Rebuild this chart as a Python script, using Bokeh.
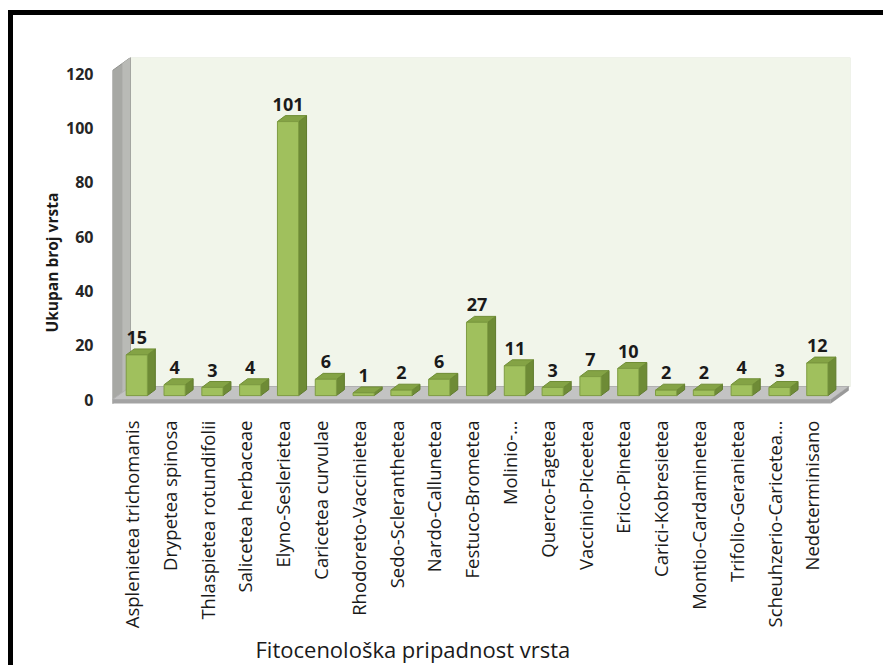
from bokeh.core.properties import value
from bokeh.embed import file_html
from bokeh.models import FixedTicker, InlineStyleSheet, Range1d, Title
from bokeh.plotting import figure
from bokeh.resources import INLINE
import math

# ---- data -------------------------------------------------------------
categories = [
    "Asplenietea trichomanis",
    "Drypetea spinosa",
    "Thlaspietea rotundifolii",
    "Salicetea herbaceae",
    "Elyno-Seslerietea",
    "Caricetea curvulae",
    "Rhodoreto-Vaccinietea",
    "Sedo-Scleranthetea",
    "Nardo-Callunetea",
    "Festuco-Brometea",
    "Molinio-…",
    "Querco-Fagetea",
    "Vaccinio-Piceetea",
    "Erico-Pinetea",
    "Carici-Kobresietea",
    "Montio-Cardaminetea",
    "Trifolio-Geranietea",
    "Scheuhzerio-Caricetea…",
    "Nedeterminisano",
]
counts = [15, 4, 3, 4, 101, 6, 1, 2, 6, 27, 11, 3, 7, 10, 2, 2, 4, 3, 12]
y_ticks = [0, 20, 40, 60, 80, 100, 120]

y_title = "Ukupan broj vrsta"
x_title = "Fitocenološka pripadnost vrsta"

# ---- geometry of the pseudo-3D box (data units) -----------------------
X_LEFT, X_RIGHT = -0.5, 19.02
Y_BOTTOM, Y_TOP = -1.84, 126.06
N = len(categories)
FLOOR_END = N - 0.5
DX, DY = 0.476, 4.79          # full depth of floor / side wall
SLAB = 1.5                    # floor thickness
BAR_HALF = 0.28               # half width of a bar's front face
BDX, BDY = 0.21, 2.2          # depth of each bar
SHIFT = 0.3                   # bars stand at this fraction of the depth

FONT = "Open Sans"

p = figure(
    width=883, height=665,
    x_range=Range1d(X_LEFT, X_RIGHT), y_range=Range1d(Y_BOTTOM, Y_TOP),
    output_backend="svg", toolbar_location=None,
    min_border_left=112, min_border_right=33,
    min_border_top=57, min_border_bottom=261,
    background_fill_color="white", border_fill_color="white",
)
p.outline_line_color = None
p.grid.visible = False

# black frame lines (left and top edges) drawn over the canvas
p.stylesheets = [InlineStyleSheet(css="""
:host { position: relative; }
:host::before {
  content: ""; position: absolute; z-index: 20; pointer-events: none;
  left: 8px; top: 10px; width: 5px; height: 655px; background: #000;
}
:host::after {
  content: ""; position: absolute; z-index: 20; pointer-events: none;
  left: 8px; top: 10px; width: 875px; height: 5px; background: #000;
}
""")]

# back wall, side wall and floor
p.patch([X_LEFT + DX, X_RIGHT, X_RIGHT, X_LEFT + DX], [DY, DY, Y_TOP, Y_TOP],
        fill_color="#F1F5EA", line_color="#E2E7DA", line_width=1)
p.patch([X_LEFT, X_LEFT + DX, X_LEFT + DX, X_LEFT],
        [-SLAB, DY - SLAB, Y_TOP, Y_TOP - DY],
        fill_color="#A7A8A4", line_color="#8F908C", line_width=1)
p.patch([X_LEFT + DX * 0.55, X_LEFT + DX, X_LEFT + DX, X_LEFT + DX * 0.55],
        [DY * 0.55, DY, Y_TOP, Y_TOP - DY * 0.45],
        fill_color="#B9BAB6", line_color=None)
p.patch([X_LEFT, FLOOR_END, FLOOR_END + DX, X_LEFT + DX], [0, 0, DY, DY],
        fill_color="#C3C3C3", line_color="#B0B0B0", line_width=1)
p.patch([X_LEFT, FLOOR_END, FLOOR_END, X_LEFT], [0, 0, -SLAB, -SLAB],
        fill_color="#A3A3A3", line_color=None)
p.patch([FLOOR_END, FLOOR_END + DX, FLOOR_END + DX, FLOOR_END],
        [0, DY, DY - SLAB, -SLAB],
        fill_color="#999999", line_color=None)

# bars: front, side and top faces
base = SHIFT * DY
front_x, front_y, side_x, side_y, top_x, top_y = [], [], [], [], [], []
label_x, label_y, label_t = [], [], []
for i, v in enumerate(counts):
    c = i + SHIFT * DX
    l, r = c - BAR_HALF, c + BAR_HALF
    t = base + v
    front_x.append([l, r, r, l])
    front_y.append([base, base, t, t])
    side_x.append([r, r + BDX, r + BDX, r])
    side_y.append([base, base + BDY, t + BDY, t])
    top_x.append([l, r, r + BDX, l + BDX])
    top_y.append([t, t, t + BDY, t + BDY])
    label_x.append(c)
    label_y.append(t + BDY)
    label_t.append(str(v))

p.patches(side_x, side_y, fill_color="#6E8B36", line_color="#5F7A2D", line_width=1)
p.patches(top_x, top_y, fill_color="#84A345", line_color="#6F8D35", line_width=1)
p.patches(front_x, front_y, fill_color="#A0C05D", line_color="#7E9C42", line_width=1)

p.text(label_x, label_y, text=label_t, text_align="center", text_baseline="bottom",
       y_offset=-5, text_font=value(FONT), text_font_style="bold",
       text_font_size="18px", text_color="#1A1A1A")

# axes
p.xaxis.ticker = FixedTicker(ticks=list(range(N)))
p.xaxis.major_label_overrides = {i: name for i, name in enumerate(categories)}
p.xaxis.major_label_orientation = math.pi / 2
p.xaxis.major_label_standoff = 16
p.xaxis.major_label_text_font = FONT
p.xaxis.major_label_text_font_size = "18.5px"
p.xaxis.major_label_text_color = "#1A1A1A"

p.yaxis.ticker = FixedTicker(ticks=y_ticks)
p.yaxis.major_label_standoff = 19
p.yaxis.major_label_text_font = FONT
p.yaxis.major_label_text_font_style = "bold"
p.yaxis.major_label_text_font_size = "16px"
p.yaxis.major_label_text_color = "#262626"

for ax in (p.xaxis[0], p.yaxis[0]):
    ax.axis_line_color = None
    ax.major_tick_line_color = None
    ax.minor_tick_line_color = None
    ax.major_tick_out = 0
    ax.major_tick_in = 0

# axis titles
p.add_layout(Title(text=y_title, align="left", offset=72, standoff=2,
                   text_font=FONT, text_font_style="bold",
                   text_font_size="15.5px", text_color="#1A1A1A"), "left")
p.add_layout(Title(text=x_title, align="left", offset=143, standoff=0,
                   text_font=FONT, text_font_style="normal",
                   text_font_size="22px", text_color="#1A1A1A"), "below")

open("out.html", "w").write(file_html(p, INLINE))
